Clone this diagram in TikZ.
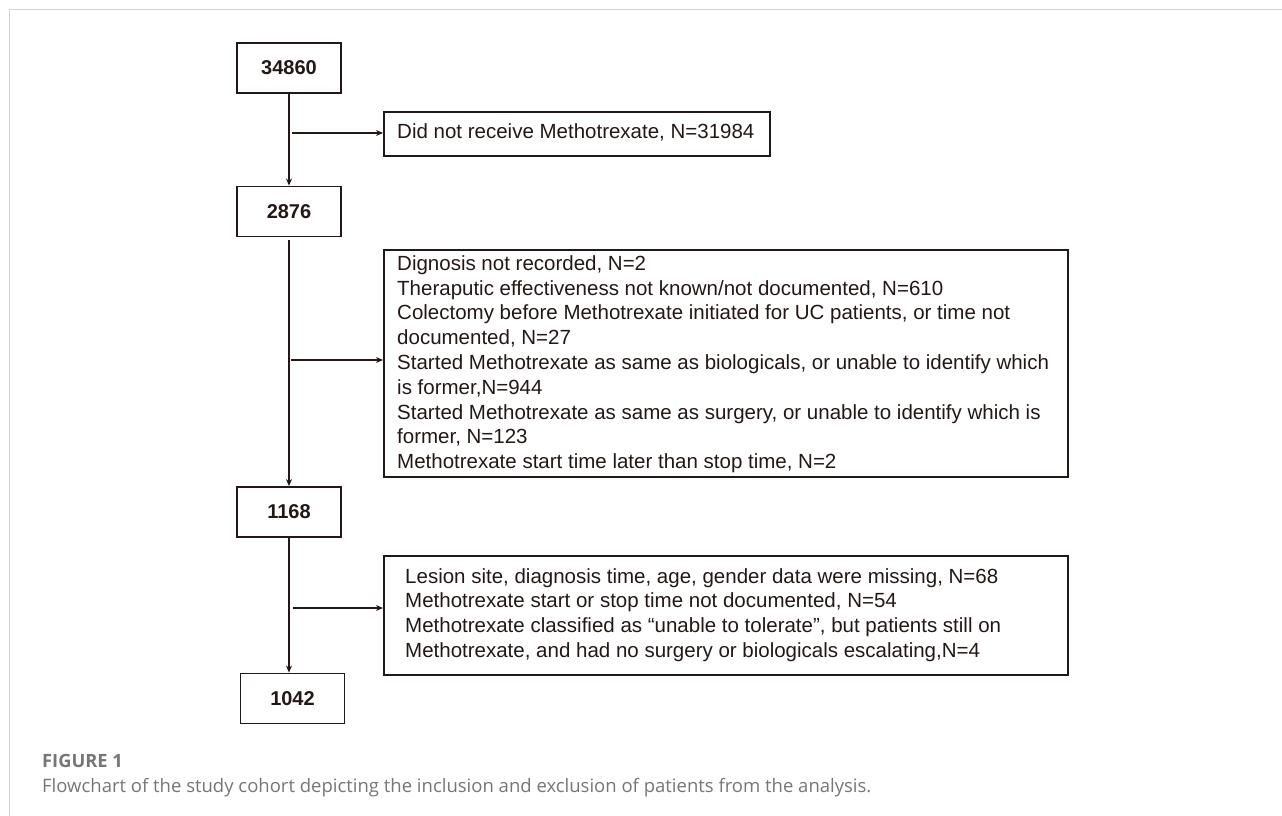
\documentclass[tikz,border=0pt]{standalone}
\usepackage{fontspec}
\setmainfont{Liberation Sans}
\newfontfamily\capfont{Open Sans}
\usetikzlibrary{arrows.meta}
\definecolor{ink}{HTML}{231815}
\definecolor{capgray}{HTML}{767676}
\definecolor{framegray}{HTML}{D2D2D2}
\tikzset{
  numbox/.style={draw=ink, line width=1.9pt, minimum width=104pt, minimum height=50pt,
    inner sep=0pt, font=\fontsize{20}{24}\selectfont\bfseries, text=ink},
  exbox/.style={draw=ink, line width=1.8pt, inner sep=0pt, anchor=north west},
  extext/.style={anchor=north west, inner sep=0pt, align=left, text=ink},
  arr/.style={draw=ink, line width=1.8pt, -{Stealth[length=7pt,width=6pt]}},
}
\begin{document}
\begin{tikzpicture}[x=1pt,y=-1pt]
\useasboundingbox (0,0) rectangle (1282,816);
% frame
\draw[framegray, line width=1.5pt] (9.5,816) -- (9.5,9.5) -- (1282,9.5);

% main boxes
\node[numbox] (n1) at (289,68) {34860};
\node[numbox] (n2) at (289,211.5) {2876};
\node[numbox] (n3) at (289,512) {1168};
\node[numbox] (n4) at (292.5,698.5) {1042};

% exclusion boxes
\node[exbox, minimum width=386pt, minimum height=44pt] (ex1) at (383,111) {};
\node[extext, font=\fontsize{20.5}{24.8}\selectfont] (ex1t) at (397,123.3)
  {Did not receive Methotrexate, N=31984};

\node[exbox, minimum width=684pt, minimum height=227pt] (ex2) at (383,249) {};
\node[extext, font=\fontsize{20.5}{24.8}\selectfont] (ex2t) at (397,255.3)
  {Dignosis not recorded, N=2\\
   Theraputic effectiveness not known/not documented, N=610\\
   Colectomy before Methotrexate initiated for UC patients, or time not\\
   documented, N=27\\
   Started Methotrexate as same as biologicals, or unable to identify which\\
   is former,N=944\\
   Started Methotrexate as same as surgery, or unable to identify which is\\
   former, N=123\\
   Methotrexate start time later than stop time, N=2};

\node[exbox, minimum width=684pt, minimum height=119pt] (ex3) at (383,555) {};
\node[extext, font=\fontsize{20.5}{24.6}\selectfont] (ex3t) at (405,568.3)
  {Lesion site, diagnosis time, age, gender data were missing, N=68\\
   Methotrexate start or stop time not documented, N=54\\
   Methotrexate classified as “unable to tolerate”, but patients still on\\
   Methotrexate, and had no surgery or biologicals escalating,N=4};

% connectors
\draw[arr] (n1.south) -- (n2.north);
\coordinate (b1) at (292,133);
\draw[arr] (b1) -- (b1 -| ex1.west);

\draw[arr, shorten <=3pt] (n2.south) -- (n3.north);
\coordinate (b2) at (291,360);
\draw[arr] (b2) -- (b2 -| ex2.west);

\draw[arr] (n3.south) -- (n3.south |- n4.north);
\coordinate (b3) at (293,608);
\draw[arr] (b3) -- (b3 -| ex3.west);

% caption
\node[anchor=base west, inner sep=0pt, font=\capfont\bfseries\fontsize{18.3}{22}\selectfont, text=capgray] (fig) at (42,767) {FIGURE 1};
\node[anchor=base west, inner sep=0pt, font=\capfont\fontsize{18.5}{22}\selectfont, text=capgray] (cap) at (42,792)
  {Flowchart of the study cohort depicting the inclusion and exclusion of patients from the analysis.};
\end{tikzpicture}
\end{document}
